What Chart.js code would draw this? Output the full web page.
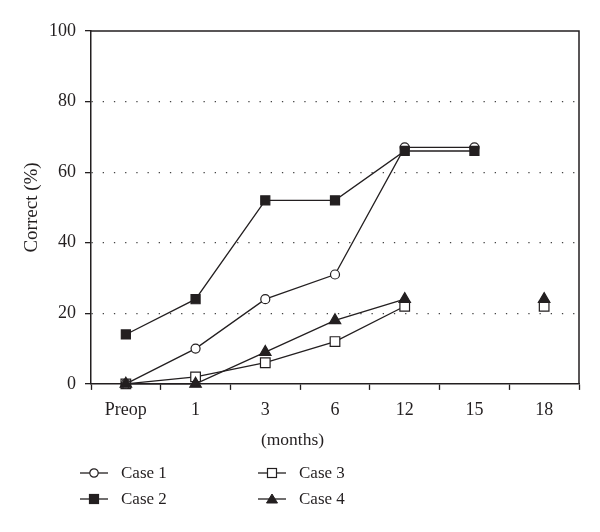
<!DOCTYPE html>
<html>
<head>
<meta charset="utf-8">
<title>Correct (%)</title>
<script src="https://cdn.jsdelivr.net/npm/chart.js@4.4.0/dist/chart.umd.min.js"></script>
<style>
    html, body { margin: 0; padding: 0; background: #fff; }
    #wrap { position: relative; width: 600px; height: 532px; }
    /* Legenda em HTML: 2 colunas, preenchida por coluna (Case 1/2 à esquerda, Case 3/4 à direita) */
    #legend {
        position: absolute; left: 80px; top: 460px;
        display: grid; grid-template-columns: 178px 178px; grid-template-rows: 26px 26px;
        grid-auto-flow: column;
        font: 17px 'Liberation Serif', 'DejaVu Serif', serif; color: #231f20;
    }
    .legend-item { display: flex; align-items: center; white-space: nowrap; }
    .legend-item svg { margin-right: 13px; flex: none; }
</style>
</head>
<body>
<div id="wrap">
    <canvas id="chart" width="600" height="532"></canvas>
    <div id="legend"></div>
</div>
<script>
// Dados
const periodos = ['Preop', '1', '3', '6', '12', '15', '18'];
const case1 = [0, 10, 24, 31, 67, 67, null];
const case2 = [14, 24, 52, 52, 66, 66, null];
const case3 = [0, 2, 6, 12, 22, null, 22];
const case4 = [0, 0, 9, 18, 24, null, 24];
const yTicks = [0, 20, 40, 60, 80, 100];

const COR = '#231f20';
const FONTE = "'Liberation Serif', 'DejaVu Serif', serif";

// Cada série: estilo do marcador (todas as linhas são pretas)
const series = [
    { label: 'Case 1', data: case1, pointStyle: 'circle', fill: '#ffffff', radius: 4.5, order: 2 },
    { label: 'Case 2', data: case2, pointStyle: 'rect', fill: COR, radius: 6.4, order: 0 },
    { label: 'Case 3', data: case3, pointStyle: 'rect', fill: '#ffffff', radius: 6.8, order: 3 },
    { label: 'Case 4', data: case4, pointStyle: 'triangle', fill: COR, radius: 6.6, order: 1 }
];

const datasets = series.map(s => ({
    label: s.label,
    data: s.data,
    borderColor: COR,
    borderWidth: 1.3,
    pointStyle: s.pointStyle,
    pointRadius: s.radius,
    pointHoverRadius: s.radius,
    pointBackgroundColor: s.fill,
    pointBorderColor: COR,
    pointBorderWidth: 1.2,
    tension: 0,
    spanGaps: false,
    clip: false,
    order: s.order
}));

// Moldura superior e direita da área do gráfico
const moldura = {
    id: 'moldura',
    beforeDatasetsDraw(chart) {
        const { ctx, chartArea: { left, top, right, bottom } } = chart;
        ctx.save();
        ctx.strokeStyle = COR;
        ctx.lineWidth = 1.5;
        ctx.beginPath();
        ctx.moveTo(left, top);
        ctx.lineTo(right, top);
        ctx.lineTo(right, bottom);
        ctx.stroke();
        ctx.restore();
    }
};

const ctx = document.getElementById('chart').getContext('2d');
const grafico = new Chart(ctx, {
    type: 'line',
    data: { labels: periodos, datasets: datasets },
    options: {
        responsive: false,
        animation: false,
        devicePixelRatio: 1,
        layout: { padding: { top: 31, right: 21, left: 6, bottom: 83 } },
        plugins: {
            legend: { display: false },
            tooltip: { enabled: false },
            title: {
                display: true,
                text: '(months)',
                position: 'bottom',
                color: COR,
                font: { family: FONTE, size: 17.5, weight: 'normal', lineHeight: 1 },
                padding: { top: 0, bottom: 0 }
            }
        },
        scales: {
            x: {
                type: 'category',
                offset: true,
                grid: {
                    offset: true,
                    drawOnChartArea: false,
                    drawTicks: true,
                    tickLength: 6,
                    tickColor: COR,
                    tickWidth: 1.3
                },
                border: { display: true, color: COR, width: 1.5 },
                ticks: {
                    color: COR,
                    padding: 10,
                    maxRotation: 0,
                    font: { family: FONTE, size: 18 }
                }
            },
            y: {
                min: 0,
                max: 100,
                afterBuildTicks: (scale) => { scale.ticks = yTicks.map(v => ({ value: v })); },
                afterFit: (scale) => { scale.width = 85; },
                grid: {
                    // Linhas pontilhadas só em 20-80 (0 e 100 ficam nos eixos/moldura)
                    color: (c) => (c.tick && (c.tick.value === 0 || c.tick.value === 100)) ? 'rgba(0,0,0,0)' : '#444',
                    lineWidth: 1.3,
                    drawTicks: true,
                    tickLength: 6,
                    tickColor: COR,
                    tickWidth: 1.3
                },
                border: { display: true, color: COR, width: 1.5, dash: [1.3, 9.9] },
                ticks: {
                    color: COR,
                    padding: 9,
                    font: { family: FONTE, size: 18 }
                },
                title: {
                    display: true,
                    text: 'Correct (%)',
                    color: COR,
                    font: { family: FONTE, size: 19 },
                    padding: { top: 15, bottom: 0 }
                }
            }
        }
    },
    plugins: [moldura]
});

/**
 * Monta o símbolo da legenda (linha com o marcador no meio) em SVG.
 * @param {object} s Série com o estilo do marcador.
 */
const simboloLegenda = (s) => {
    let marcador = '';
    if (s.pointStyle === 'circle') {
        marcador = `<circle cx="14" cy="7" r="4.2" fill="${s.fill}" stroke="${COR}" stroke-width="1.2"/>`;
    } else if (s.pointStyle === 'rect') {
        marcador = `<rect x="9.5" y="2.5" width="9" height="9" fill="${s.fill}" stroke="${COR}" stroke-width="1.2"/>`;
    } else if (s.pointStyle === 'triangle') {
        marcador = `<polygon points="14,2 19.5,11 8.5,11" fill="${s.fill}" stroke="${COR}" stroke-width="1"/>`;
    }
    return `<svg width="28" height="14" viewBox="0 0 28 14">
        <line x1="0" y1="7" x2="28" y2="7" stroke="${COR}" stroke-width="1.3"/>${marcador}</svg>`;
};

// Gera a legenda a partir dos datasets do gráfico
document.getElementById('legend').innerHTML = grafico.data.datasets.map((ds, i) => `
    <div class="legend-item">${simboloLegenda(series[i])}<span>${ds.label}</span></div>
`).join('');
</script>
</body>
</html>
